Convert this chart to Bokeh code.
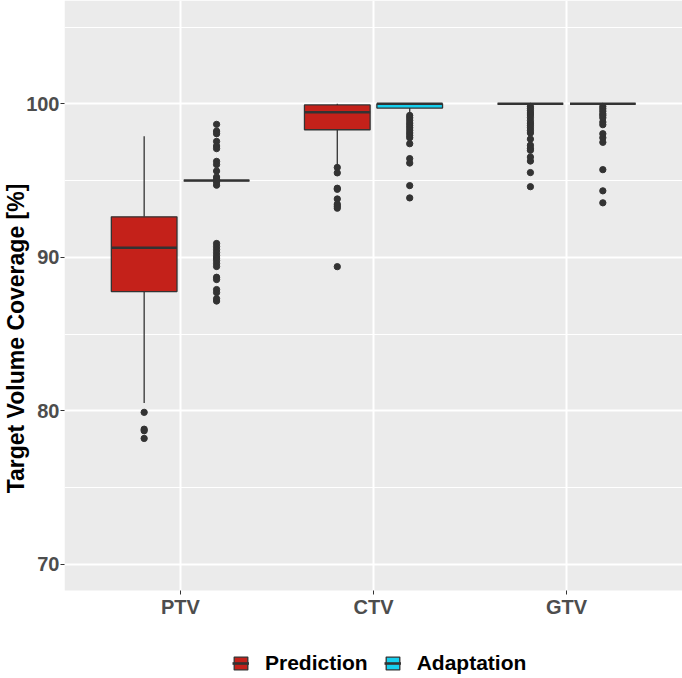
from bokeh.plotting import figure
from bokeh.models import (ColumnDataSource, FactorRange, FixedTicker, Legend,
                          LegendItem, BoxAnnotation)
from bokeh.transform import dodge
from bokeh.embed import file_html
from bokeh.resources import INLINE

# ---------------- data ----------------
categories = ["PTV", "CTV", "GTV"]
groups = ["Prediction", "Adaptation"]

pred_q1 = [87.77, 98.31, 100.0]
pred_median = [90.62, 99.45, 100.0]
pred_q3 = [92.64, 99.93, 100.0]
pred_lower = [80.5, 95.93, 100.0]
pred_upper = [97.88, 100.0, 100.0]

adapt_q1 = [95.0, 99.72, 100.0]
adapt_median = [95.0, 100.0, 100.0]
adapt_q3 = [95.0, 100.0, 100.0]
adapt_lower = [95.0, 99.4, 100.0]
adapt_upper = [95.0, 100.0, 100.0]

ptv_pred_outliers = [79.9, 78.8, 78.7, 78.2]
ctv_pred_outliers = [95.85, 95.5, 94.5, 94.43, 93.8, 93.46, 93.33, 93.2, 89.39]
gtv_pred_outliers = [99.83, 99.7, 99.55, 99.4, 99.27, 99.1, 98.9, 98.74, 98.6,
                     98.44, 98.27, 98.1, 97.7, 97.3, 97.1, 96.97, 96.53, 96.27,
                     95.52, 94.6]

ptv_adapt_outliers = [98.66, 98.22, 98.05, 97.55, 97.25, 97.08, 96.25, 96.04,
                      95.62, 95.23, 95.08, 94.91, 94.7, 90.9, 90.7, 90.5, 90.3,
                      90.1, 89.95, 89.8, 89.6, 89.4, 88.7, 88.55, 87.9, 87.7,
                      87.3, 87.15]
ctv_adapt_outliers = [99.24, 99.09, 98.92, 98.74, 98.59, 98.44, 98.27, 98.1,
                      97.94, 97.79, 97.4, 96.43, 96.14, 94.67, 93.87]
gtv_adapt_outliers = [99.83, 99.68, 99.52, 99.35, 99.24, 99.09, 98.81, 98.64,
                      98.05, 97.79, 97.49, 95.71, 94.33, 93.55]

y_ticks = [70, 80, 90, 100]
y_minor_ticks = [75, 85, 95, 105]
y_title = "Target Volume Coverage [%]"

# ---------------- styling / layout ----------------
FONT = "Liberation Sans"
COLORS = {"Prediction": "#C4211A", "Adaptation": "#16CFEE"}
OFFSETS = {"Prediction": -0.1875, "Adaptation": 0.1875}
BOX_W = 0.34
DARK = "#333333"
PANEL_BOTTOM = 68.29   # lower edge of the grey panel (axis sits here)
PANEL_TOP = 106.73
VIEW_BOTTOM = 62.69    # extra room below panel for axis labels and legend

p = figure(width=682, height=676,
           x_range=FactorRange(factors=categories, range_padding=0.1,
                               range_padding_units="absolute"),
           y_range=(VIEW_BOTTOM, PANEL_TOP),
           output_backend="svg", toolbar_location=None,
           min_border_left=64, min_border_right=0,
           min_border_top=0, min_border_bottom=0)

p.background_fill_color = "white"
p.border_fill_color = "white"
p.outline_line_color = None

panel = BoxAnnotation(bottom=PANEL_BOTTOM, fill_color="#EBEBEB", fill_alpha=1,
                      line_color=None, level="image")
p.add_layout(panel)

# grids
p.xgrid.grid_line_color = "white"
p.xgrid.grid_line_width = 2
p.ygrid.grid_line_color = "white"
p.ygrid.grid_line_width = 2
p.ygrid.minor_grid_line_color = "white"
p.ygrid.minor_grid_line_width = 1

# axes
p.yaxis.ticker = FixedTicker(ticks=y_ticks, minor_ticks=y_minor_ticks)
p.xaxis.fixed_location = PANEL_BOTTOM
for ax in (p.xaxis, p.yaxis):
    ax.axis_line_color = None
    ax.major_tick_in = 0
    ax.major_tick_out = 4
    ax.major_tick_line_color = DARK
    ax.minor_tick_line_color = None
    ax.major_label_text_font = FONT
    ax.major_label_text_font_style = "bold"
    ax.major_label_text_font_size = "20px"
    ax.major_label_text_color = "#4D4D4D"
p.yaxis.major_label_standoff = 1
p.xaxis.major_label_standoff = 1

p.yaxis.axis_label = y_title
p.yaxis.axis_label_standoff = -6
p.yaxis.axis_label_text_font = FONT
p.yaxis.axis_label_text_font_style = "bold"
p.yaxis.axis_label_text_font_size = "23px"
p.yaxis.axis_label_text_color = "black"

outlier_lists = {
    "Prediction": [ptv_pred_outliers, ctv_pred_outliers, gtv_pred_outliers],
    "Adaptation": [ptv_adapt_outliers, ctv_adapt_outliers, gtv_adapt_outliers],
}
stats = {
    "Prediction": (pred_q1, pred_median, pred_q3, pred_lower, pred_upper),
    "Adaptation": (adapt_q1, adapt_median, adapt_q3, adapt_lower, adapt_upper),
}

legend_renderers = {}
for g in groups:
    q1, med, q3, lo, hi = stats[g]
    src = ColumnDataSource(dict(cat=categories, q1=q1, med=med, q3=q3, lo=lo, hi=hi))
    off = OFFSETS[g]
    xc = dodge("cat", off, range=p.x_range)
    xl = dodge("cat", off - BOX_W / 2, range=p.x_range)
    xr = dodge("cat", off + BOX_W / 2, range=p.x_range)
    p.segment(x0=xc, y0="q3", x1=xc, y1="hi", source=src,
              line_color=DARK, line_width=1.3)
    p.segment(x0=xc, y0="q1", x1=xc, y1="lo", source=src,
              line_color=DARK, line_width=1.3)
    box = p.vbar(x=xc, width=BOX_W, top="q3", bottom="q1", source=src,
                 fill_color=COLORS[g], line_color=DARK, line_width=1.3)
    med_r = p.segment(x0=xl, y0="med", x1=xr, y1="med", source=src,
                      line_color=DARK, line_width=2.6)
    ocat, oval = [], []
    for c, vals in zip(categories, outlier_lists[g]):
        ocat += [c] * len(vals)
        oval += vals
    osrc = ColumnDataSource(dict(cat=ocat, val=oval))
    p.scatter(x=xc, y="val", source=osrc, size=6.3, color=DARK)
    legend_renderers[g] = [box, med_r]

legend = Legend(items=[LegendItem(label=g, renderers=legend_renderers[g]) for g in groups],
                location=(168, 1), orientation="horizontal",
                background_fill_alpha=0, border_line_color=None,
                padding=0, margin=0, spacing=16, label_standoff=16,
                glyph_width=17, glyph_height=16,
                label_text_font=FONT, label_text_font_style="bold",
                label_text_font_size="21px", label_text_color="black")
p.add_layout(legend)

open("out.html", "w").write(file_html(p, INLINE))
